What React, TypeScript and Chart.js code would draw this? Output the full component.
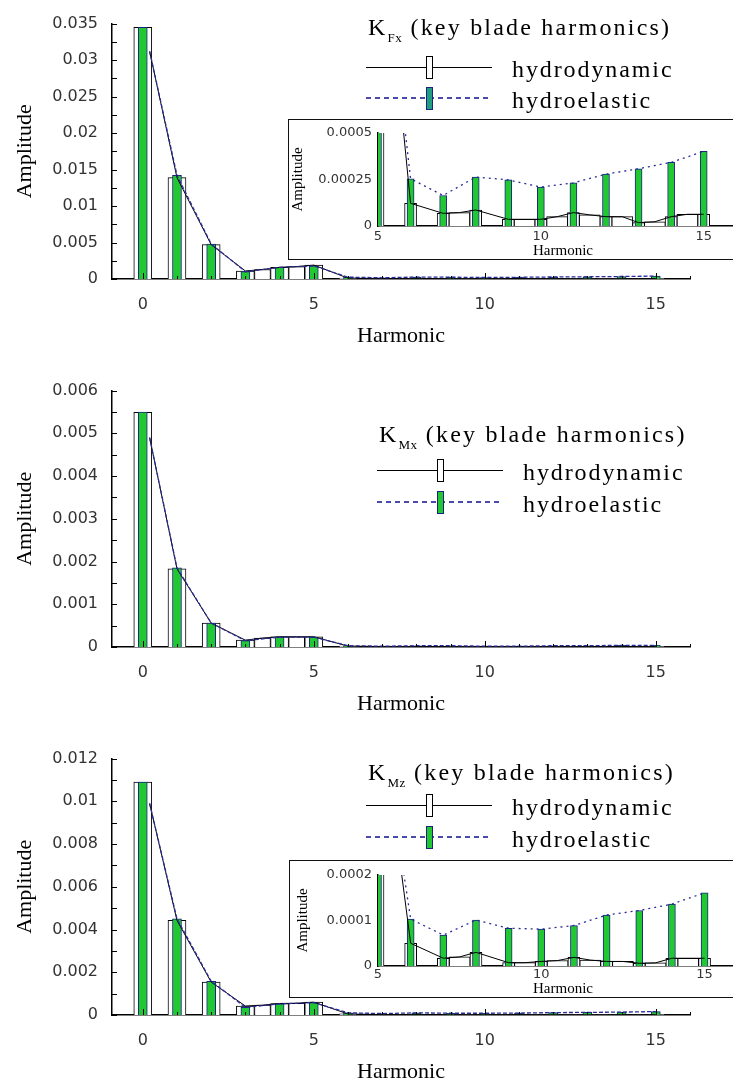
import React, { useEffect, useRef } from 'react';
import { Chart, registerables } from 'chart.js';

Chart.register(...registerables);

// ---------- data ----------
const harmonics = [0, 1, 2, 3, 4, 5, 6, 7, 8, 9, 10, 11, 12, 13, 14, 15];
const halfHarmonics = [3.5, 4.5, 7.5, 9.5, 10.5, 11.5, 12.5, 13.5, 14.5];
const lineStartHarmonic = 0.2;
const mainXTicks = [0, 5, 10, 15];
const insetXTicks = [5, 10, 15];

// K_Fx
const fxHydrodynamic = [0.0345, 0.0139, 0.0047, 0.0011, 0.0016, 0.0019, 0.000122, 0.000068, 0.000086, 0.000036, 0.000036, 0.000072, 0.00005, 0.000018, 0.00005, 0.000063];
const fxHydroelastic = [0.0345, 0.0142, 0.0048, 0.001, 0.0016, 0.0018, 0.000254, 0.000164, 0.000263, 0.000248, 0.000209, 0.000232, 0.000279, 0.000308, 0.000342, 0.000401];
const fxHydrodynamicHalf = [0.0013, 0.0017, 0.000072, 0.000036, 0.00005, 0.00006, 0.00005, 0.000023, 0.000063];
const fxLineStart = [0.0312, 0.0312];
const fxYTicks = [0, 0.005, 0.01, 0.015, 0.02, 0.025, 0.03, 0.035];
const fxInsetYTicks = [0, 0.00025, 0.0005];

// K_Mx
const mxHydrodynamic = [0.00549, 0.00183, 0.00056, 0.00016, 0.00024, 0.00024, 0.00002, 0.00001, 0.00001, 0.00001, 0.00001, 0.00001, 0.00001, 0.00001, 0.00001, 0.00001];
const mxHydroelastic = [0.0055, 0.00185, 0.00056, 0.00015, 0.00023, 0.00023, 0.00003, 0.00002, 0.00003, 0.00003, 0.00002, 0.00002, 0.00003, 0.00003, 0.00004, 0.00004];
const mxHydrodynamicHalf = [0.00021, 0.00024, 0.00001, 0.00001, 0.00001, 0.00001, 0.00001, 0.00001, 0.00001];
const mxLineStart = [0.0049, 0.0049];
const mxYTicks = [0, 0.001, 0.002, 0.003, 0.004, 0.005, 0.006];

// K_Mz
const mzHydrodynamic = [0.0109, 0.00443, 0.00154, 0.00042, 0.00054, 0.0006, 0.00005, 0.000017, 0.00003, 0.0000073, 0.00001, 0.000019, 0.00001, 0.000006, 0.000017, 0.000017];
const mzHydroelastic = [0.0109, 0.0045, 0.00158, 0.00036, 0.00052, 0.00058, 0.000103, 0.000068, 0.000101, 0.000083, 0.000081, 0.000089, 0.000112, 0.000122, 0.000136, 0.000161];
const mzHydrodynamicHalf = [0.00046, 0.00055, 0.00002, 0.0000073, 0.000012, 0.000013, 0.00001, 0.000007, 0.000017];
const mzLineStart = [0.0099, 0.0099];
const mzYTicks = [0, 0.002, 0.004, 0.006, 0.008, 0.01, 0.012];
const mzInsetYTicks = [0, 0.0001, 0.0002];

// ---------- styles ----------
const GREEN = '#22c832';
const NAVY = '#1a2380';
const BLUE = '#2b2b9b';
const SERIF = "'Liberation Serif', 'Times New Roman', serif";
const SANS = "'DejaVu Sans', sans-serif";

type Sizes = { white: number; half: number; green: number; dash: number[] };

function buildDatasets(dyn: number[], el: number[], half: number[], start: number[], s: Sizes) {
  const pts = (xs: number[], ys: number[]) => xs.map((x, i) => ({ x, y: ys[i] }));
  const dynLine = [
    { x: lineStartHarmonic, y: start[0] },
    ...[...harmonics.slice(1).map((h, i) => ({ x: h, y: dyn[i + 1] })), ...pts(halfHarmonics, half)].sort((a, b) => a.x - b.x),
  ];
  const elLine = [{ x: lineStartHarmonic, y: start[1] }, ...harmonics.slice(1).map((h, i) => ({ x: h, y: el[i + 1] }))];
  return [
    { type: 'bar', label: 'hydrodynamic (half harmonics)', data: pts(halfHarmonics, half), backgroundColor: '#fff', borderColor: '#000', borderWidth: 1, barThickness: s.half, grouped: false, order: 6, clip: 0 },
    { type: 'bar', label: 'hydrodynamic', data: pts(harmonics, dyn), backgroundColor: '#fff', borderColor: '#000', borderWidth: 1, barThickness: s.white, grouped: false, order: 5, clip: 0 },
    { type: 'bar', label: 'hydroelastic', data: pts(harmonics, el), backgroundColor: GREEN, borderColor: NAVY, borderWidth: 1, barThickness: s.green, grouped: false, order: 4, clip: 0 },
    { type: 'line', label: 'hydrodynamic line', data: dynLine, borderColor: '#000', borderWidth: 1, pointRadius: 0, tension: 0, order: 2, clip: 0 },
    { type: 'line', label: 'hydroelastic line', data: elLine, borderColor: BLUE, borderWidth: 1.3, borderDash: s.dash, pointRadius: 0, tension: 0, order: 1, clip: 0 },
  ];
}

const inwardTicks = {
  id: 'inwardTicks',
  afterDraw(chart: any, _args: any, opts: any) {
    const { ctx, chartArea } = chart;
    const x = chart.scales.x;
    const y = chart.scales.y;
    ctx.save();
    ctx.strokeStyle = '#000';
    ctx.lineWidth = 1;
    ctx.beginPath();
    for (let v = Math.ceil(x.min); v <= x.max + 1e-9; v++) {
      const px = Math.round(x.getPixelForValue(v)) + 0.5;
      const len = v % 5 === 0 ? 6 : 3;
      ctx.moveTo(px, chartArea.bottom);
      ctx.lineTo(px, chartArea.bottom - len);
    }
    const step = opts.yMinorStep;
    for (let i = 0; i * step <= y.max + step * 1e-6; i++) {
      const py = Math.round(y.getPixelForValue(i * step)) + 0.5;
      ctx.moveTo(chartArea.left, py);
      ctx.lineTo(chartArea.left + 5, py);
    }
    ctx.stroke();
    ctx.restore();
  },
};

type Cfg = {
  dyn: number[]; el: number[]; half: number[]; start: number[];
  xMin: number; xMax: number; xTicks: number[];
  yMax: number; yTicks: number[];
  yWidth: number; xHeight: number; padTop: number; padRight: number;
  tickSize: number; titleSize: number;
  yTickPad: number; xTickPad: number; yTitlePad: number;
  sizes: Sizes; yMinorStep?: number;
};

function makeConfig(c: Cfg): any {
  const tickFont = { family: SANS, size: c.tickSize };
  const titleFont = { family: SERIF, size: c.titleSize };
  return {
    type: 'bar',
    data: { datasets: buildDatasets(c.dyn, c.el, c.half, c.start, c.sizes) },
    plugins: c.yMinorStep ? [inwardTicks] : [],
    options: {
      animation: false,
      responsive: false,
      maintainAspectRatio: false,
      events: [],
      layout: { padding: { top: c.padTop, right: c.padRight, bottom: 0, left: 0 } },
      plugins: {
        legend: { display: false },
        tooltip: { enabled: false },
        inwardTicks: { yMinorStep: c.yMinorStep },
      },
      scales: {
        x: {
          type: 'linear', min: c.xMin, max: c.xMax, offset: false,
          grid: { display: false, drawTicks: false },
          border: { display: true, color: '#000', width: 1.5 },
          ticks: { padding: c.xTickPad, font: tickFont, color: '#333', autoSkip: false, maxRotation: 0, includeBounds: false, callback: (v: number) => String(v) },
          afterBuildTicks: (s: any) => { s.ticks = c.xTicks.map((v) => ({ value: v })); },
          afterFit: (s: any) => { s.height = c.xHeight; },
          title: { display: true, text: 'Harmonic', font: titleFont, color: '#000', padding: { top: 0, bottom: 0 } },
        },
        y: {
          type: 'linear', min: 0, max: c.yMax,
          grid: { display: false, drawTicks: false },
          border: { display: true, color: '#000', width: 1.5 },
          ticks: { padding: c.yTickPad, font: tickFont, color: '#333', autoSkip: false, includeBounds: false, callback: (v: number) => String(v) },
          afterBuildTicks: (s: any) => { s.ticks = c.yTicks.map((v) => ({ value: v })); },
          afterFit: (s: any) => { s.width = c.yWidth; },
          title: { display: true, text: 'Amplitude', font: titleFont, color: '#000', padding: { top: c.yTitlePad, bottom: 0 } },
        },
      },
    },
  };
}

function ChartCanvas({ left, top, width, height, z, cfg }: { left: number; top: number; width: number; height: number; z: number; cfg: Cfg }) {
  const ref = useRef<HTMLCanvasElement>(null);
  useEffect(() => {
    const chart = new Chart(ref.current as HTMLCanvasElement, makeConfig(cfg));
    return () => chart.destroy();
  }, []);
  return <canvas ref={ref} width={width} height={height} style={{ position: 'absolute', left, top, width, height, zIndex: z }} />;
}

const mainSizes: Sizes = { white: 18, half: 16, green: 9, dash: [4, 2] };
const insetSizes: Sizes = { white: 12, half: 21, green: 7, dash: [2, 4] };

function mainCfg(dyn: number[], el: number[], half: number[], start: number[], yTicks: number[], yMinorStep: number): Cfg {
  return {
    dyn, el, half, start,
    xMin: -0.9, xMax: 16, xTicks: mainXTicks,
    yMax: yTicks[yTicks.length - 1], yTicks,
    yWidth: 112, xHeight: 70, padTop: 20, padRight: 43,
    tickSize: 16, titleSize: 22,
    yTickPad: 14, xTickPad: 16, yTitlePad: 12,
    sizes: mainSizes, yMinorStep,
  };
}

function insetCfg(dyn: number[], el: number[], half: number[], start: number[], yTicks: number[], o: { xMax: number; yWidth: number; xHeight: number; padTop: number; xTickPad: number; yTitlePad: number }): Cfg {
  return {
    dyn, el, half, start,
    xMin: 5, xMax: o.xMax, xTicks: insetXTicks,
    yMax: yTicks[yTicks.length - 1], yTicks,
    yWidth: o.yWidth, xHeight: o.xHeight, padTop: o.padTop, padRight: 0,
    tickSize: 13, titleSize: 15,
    yTickPad: 6, xTickPad: o.xTickPad, yTitlePad: o.yTitlePad,
    sizes: insetSizes,
  };
}

function Legend({ left, titleBaseline, row1, row2, sub, elFill }: { left: number; titleBaseline: number; row1: number; row2: number; sub: string; elFill: string }) {
  const text: React.CSSProperties = {
    position: 'absolute', fontFamily: SERIF, fontSize: 24, lineHeight: '24px',
    whiteSpace: 'nowrap', color: '#000', zIndex: 5,
  };
  const boxH = 23;
  return (
    <>
      <div style={{ ...text, left: left + 2, top: titleBaseline - 20, letterSpacing: '2.2px' }}>
        K<span style={{ fontSize: 13, position: 'relative', top: 7, letterSpacing: '0.5px' }}>{sub}</span>{' (key blade harmonics)'}
      </div>
      <div style={{ position: 'absolute', left, top: row1 - 0.5, width: 126, height: 1, background: '#000', zIndex: 5 }} />
      <div style={{ position: 'absolute', left: left + 60, top: row1 - 11, width: 7, height: boxH, border: '1px solid #000', background: '#fff', boxSizing: 'border-box', zIndex: 6 }} />
      <div style={{ ...text, left: left + 146, top: row1 + 10 - 20, letterSpacing: '1.9px' }}>hydrodynamic</div>
      <div style={{ position: 'absolute', left, top: row2 - 0.75, width: 126, height: 1.5, backgroundImage: 'repeating-linear-gradient(to right, #4a4aa8 0px, #4a4aa8 5px, transparent 5px, transparent 9px)', zIndex: 5 }} />
      <div style={{ position: 'absolute', left: left + 60, top: row2 - 11, width: 7, height: boxH, border: `1px solid ${NAVY}`, background: elFill, boxSizing: 'border-box', zIndex: 6 }} />
      <div style={{ ...text, left: left + 146, top: row2 + 10 - 20, letterSpacing: '1.9px' }}>hydroelastic</div>
    </>
  );
}

function InsetBox({ left, top, height }: { left: number; top: number; height: number }) {
  return <div style={{ position: 'absolute', left, top, width: 480, height, border: '1.5px solid #111', background: '#fff', boxSizing: 'border-box', zIndex: 2 }} />;
}

export default function App() {
  return (
    <div style={{ position: 'absolute', left: 0, top: 0, width: 733, height: 1083, overflow: 'hidden', background: '#fff' }}>
      {/* Panel 1: K_Fx */}
      <ChartCanvas left={0} top={0} width={733} height={349} z={1} cfg={mainCfg(fxHydrodynamic, fxHydroelastic, fxHydrodynamicHalf, fxLineStart, fxYTicks, 0.0025)} />
      <InsetBox left={288} top={119} height={141} />
      <ChartCanvas left={288} top={119} width={460} height={141} z={3}
        cfg={insetCfg(fxHydrodynamic, fxHydroelastic, fxHydrodynamicHalf, fxLineStart, fxInsetYTicks, { xMax: 16.36, yWidth: 90, xHeight: 34, padTop: 14, xTickPad: 3, yTitlePad: 1 })} />
      <Legend left={366} titleBaseline={35} row1={67} row2={98} sub="Fx" elFill="#1f9f7f" />

      {/* Panel 2: K_Mx */}
      <ChartCanvas left={0} top={367} width={733} height={350} z={1} cfg={mainCfg(mxHydrodynamic, mxHydroelastic, mxHydrodynamicHalf, mxLineStart, mxYTicks, 0.0005)} />
      <Legend left={377} titleBaseline={442} row1={470} row2={502} sub="Mx" elFill={GREEN} />

      {/* Panel 3: K_Mz */}
      <ChartCanvas left={0} top={735} width={733} height={350} z={1} cfg={mainCfg(mzHydrodynamic, mzHydroelastic, mzHydrodynamicHalf, mzLineStart, mzYTicks, 0.001)} />
      <InsetBox left={289} top={860} height={138} />
      <ChartCanvas left={289} top={860} width={459} height={138} z={3}
        cfg={insetCfg(mzHydrodynamic, mzHydroelastic, mzHydrodynamicHalf, mzLineStart, mzInsetYTicks, { xMax: 16.33, yWidth: 89, xHeight: 32, padTop: 15, xTickPad: 1, yTitlePad: 5 })} />
      <Legend left={366} titleBaseline={780} row1={805} row2={837} sub="Mz" elFill={GREEN} />
    </div>
  );
}
